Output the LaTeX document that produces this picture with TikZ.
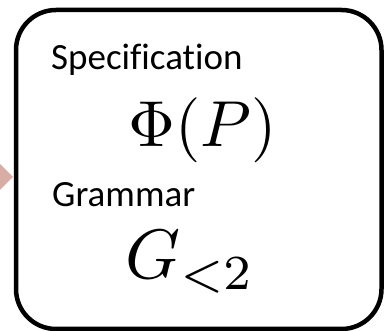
\documentclass[tikz,border=0pt]{standalone}
\usepackage{fontspec}
\usepackage{graphicx}
\newfontfamily\calib[Ligatures=NoCommon]{Carlito}
\definecolor{arrowpink}{HTML}{D8ADA5}
\tikzset{
  frame/.style={draw=black, line width=4.5pt, rounded corners=40pt, minimum width=365.5pt, minimum height=319pt, inner sep=0pt},
  lbl/.style={anchor=base west, inner sep=0pt, font=\calib\fontsize{37}{40}\selectfont},
  mathlbl/.style={anchor=base west, inner sep=0pt}
}
\begin{document}
\begin{tikzpicture}[x=1pt,y=1pt]
\useasboundingbox (0,0) rectangle (385,331);
\begin{scope}
\clip (0,0) rectangle (385,331);
\fill[arrowpink] (-6,173) -- (13,154) -- (-6,135) -- cycle;
\end{scope}
\node[frame] (box) at (198.75,161.5) {};
\node[lbl] (spec) at (51,261) {Specification};
\node[mathlbl] (phi) at (128,184) {\scalebox{6.5}{$\Phi(P)$}};
\node[lbl] (gram) at (52,124) {Grammar};
\node[mathlbl] (g) at (125,52) {\scalebox{7.0}{$G_{<2}$}};
\end{tikzpicture}
\end{document}
